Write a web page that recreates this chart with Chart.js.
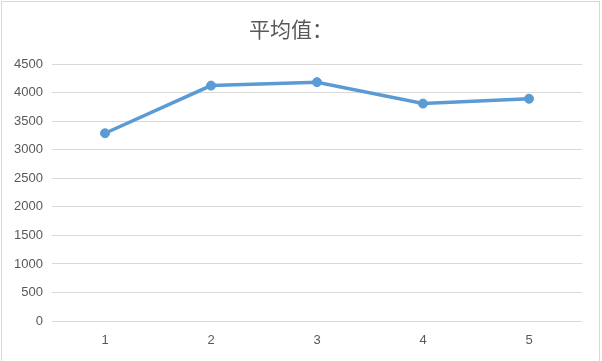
<!DOCTYPE html>
<html>
<head>
<meta charset="utf-8">
<script src="https://cdn.jsdelivr.net/npm/chart.js@4/dist/chart.umd.min.js"></script>
<style>
html,body{margin:0;padding:0;background:#fff;}
canvas{display:block;}
</style>
</head>
<body>
<canvas id="c" width="602" height="361"></canvas>
<script>
const categories = ['1', '2', '3', '4', '5'];
const averageValues = [3290, 4125, 4185, 3810, 3895];
const titleText = '平均值：';

const borderPlugin = {
  id: 'frame',
  beforeDraw(chart) {
    const ctx = chart.ctx;
    ctx.save();
    ctx.fillStyle = '#ffffff';
    ctx.fillRect(0, 0, chart.width, chart.height);
    ctx.strokeStyle = '#D9D9D9';
    ctx.lineWidth = 1;
    ctx.strokeRect(1.5, 1.5, 598, 362);
    ctx.restore();
  }
};

new Chart(document.getElementById('c'), {
  type: 'line',
  data: {
    labels: categories,
    datasets: [{
      data: averageValues,
      borderColor: '#5B9BD5',
      backgroundColor: '#5B9BD5',
      borderWidth: 3.5,
      pointRadius: 4.5,
      pointBorderWidth: 1,
      pointBackgroundColor: '#5B9BD5',
      pointBorderColor: '#5B9BD5',
      tension: 0,
      fill: false
    }]
  },
  options: {
    responsive: false,
    animation: false,
    devicePixelRatio: 1,
    layout: { padding: { left: 0, right: 20, top: 0, bottom: 0 } },
    plugins: {
      legend: { display: false },
      tooltip: { enabled: false },
      title: {
        display: true,
        text: titleText,
        color: '#595959',
        font: { family: '"Noto Sans CJK SC", sans-serif', size: 21, weight: 'normal', lineHeight: 1.2 },
        padding: { top: 16, bottom: 23 }
      }
    },
    scales: {
      x: {
        type: 'category',
        offset: true,
        grid: { display: false, drawTicks: false },
        border: { display: false },
        ticks: { color: '#595959', font: { family: '"Liberation Sans", sans-serif', size: 13 }, padding: 12 },
        afterFit(s) { s.height = 40; }
      },
      y: {
        min: 0,
        max: 4500,
        ticks: {
          stepSize: 500,
          color: '#595959',
          font: { family: '"Liberation Sans", sans-serif', size: 13 },
          padding: 9,
          callback: (v) => String(v)
        },
        grid: { color: '#D9D9D9', lineWidth: 1, drawTicks: false },
        border: { display: false },
        afterFit(s) { s.width = 52; }
      }
    }
  },
  plugins: [borderPlugin]
});
</script>
</body>
</html>
